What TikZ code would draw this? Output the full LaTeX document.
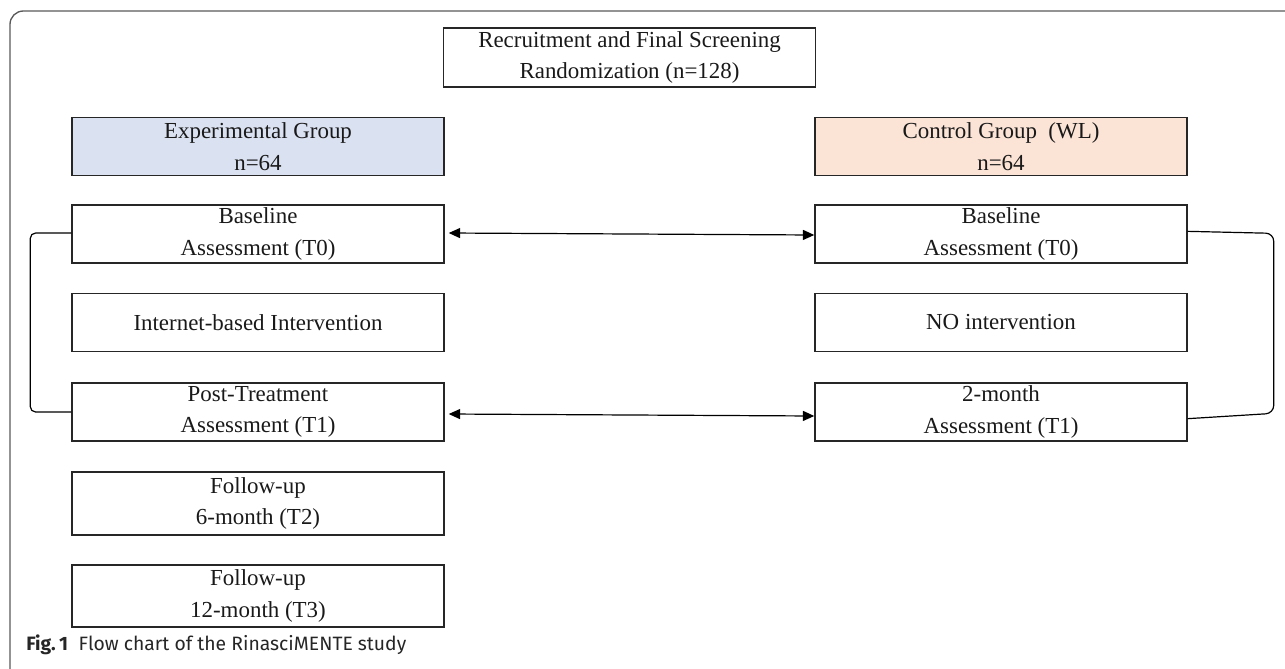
\documentclass[tikz,border=0pt]{standalone}
\usepackage{fontspec}
\setmainfont{Liberation Serif}
\newfontfamily\capfont{Fira Sans}
\usetikzlibrary{arrows.meta}
\definecolor{expblue}{HTML}{DAE1F1}
\definecolor{ctlpeach}{HTML}{FBE3D6}
\begin{document}
\begin{tikzpicture}[x=0.75pt,y=-0.75pt,
  box/.style={draw=black!85, line width=1.1pt, minimum width=279pt, minimum height=43.5pt,
    inner sep=0pt, align=center, font=\fontsize{17.2}{23.5}\selectfont, text=black!90},
  conn/.style={line width=0.9pt, black},
  link/.style={conn, {Triangle[length=8.5pt,width=7.5pt]}-{Triangle[length=8.5pt,width=7.5pt]}}]
\useasboundingbox (0,0) rectangle (1285,668);
\begin{scope}
  \clip (0,0) rectangle (1285,668);
  \draw[black!65, line width=1pt, rounded corners=10pt] (10,11) rectangle (1320,700);
\end{scope}

\node[box, minimum height=44.25pt] (top) at (629.5,57.5) {Recruitment and Final Screening\\Randomization (n=128)};
\node[box, fill=expblue] (eg) at (258,146.5) {Experimental Group\\n=64};
\node[box, fill=ctlpeach] (cg) at (1001,146.5) {Control Group~~(WL)\\n=64};
\node[box] (b1) at (258,234) {Baseline\\Assessment (T0)};
\node[box] (b2) at (1001,234) {Baseline\\Assessment (T0)};
\node[box] (i1) at (258,322.5) {Internet-based Intervention};
\node[box] (i2) at (1001,322.5) {NO intervention};
\node[box] (p1) at (258,412) {Post-Treatment\\Assessment (T1)};
\node[box] (p2) at (1001,412) {2-month\\Assessment (T1)};
\node[box, minimum height=47pt] (f1) at (258,503.5) {Follow-up\\6-month (T2)};
\node[box, minimum height=46.5pt] (f2) at (258,596) {Follow-up\\12-month (T3)};

\draw[link] ([xshift=3pt,yshift=0.75pt]b1.east) -- ([yshift=-0.75pt]b2.west);
\draw[link] ([xshift=3pt,yshift=-1.5pt]p1.east) -- ([yshift=-3pt]p2.west);

\draw[conn, rounded corners=4pt] ([yshift=0.75pt]b1.west) -- ++(-41,0) |- (p1.west);
\draw[conn, rounded corners=6pt] ([yshift=2pt]b2.east) -- ++(86,2) -- ++(0,180) -- ([yshift=-5pt]p2.east);

\node[anchor=base west, font=\capfont\fontsize{14.5}{17}\selectfont, inner sep=0pt, text=black!85] (cap) at (26,650)
  {\textbf{Fig.\,1}\hspace{8pt}Flow chart of the RinasciMENTE study};
\end{tikzpicture}
\end{document}
